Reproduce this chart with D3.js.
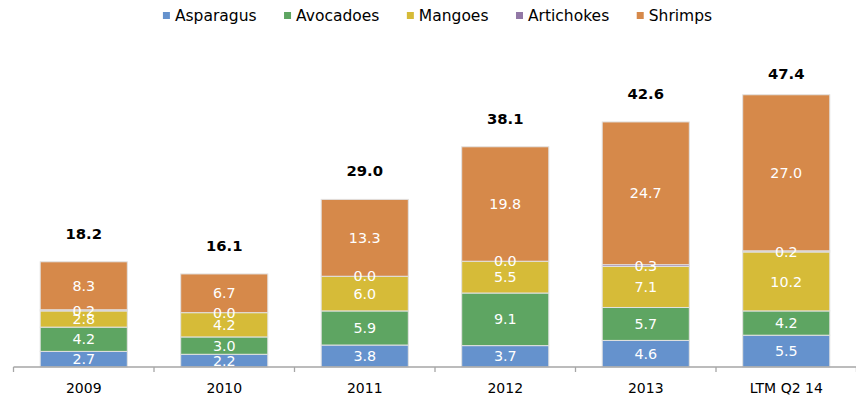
<!DOCTYPE html>
<html>
<head>
<meta charset="utf-8">
<script src="https://cdn.jsdelivr.net/npm/d3@7"></script>
<style>
  html, body { margin: 0; padding: 0; background: #fff; }
  svg { display: block; font-family: "DejaVu Sans", Verdana, sans-serif; }
</style>
</head>
<body>
<svg id="chart" width="856" height="402"></svg>
<script>
// Export revenue by product line (USD millions)
const categories = ["2009", "2010", "2011", "2012", "2013", "LTM Q2 14"];
const seriesNames = ["Asparagus", "Avocadoes", "Mangoes", "Artichokes", "Shrimps"];
const asparagus  = [2.7, 2.2, 3.8, 3.7, 4.6, 5.5];
const avocadoes  = [4.2, 3.0, 5.9, 9.1, 5.7, 4.2];
const mangoes    = [2.8, 4.2, 6.0, 5.5, 7.1, 10.2];
const artichokes = [0.2, 0.0, 0.0, 0.0, 0.3, 0.2];
const shrimps    = [8.3, 6.7, 13.3, 19.8, 24.7, 27.0];
const totals     = [18.2, 16.1, 29.0, 38.1, 42.6, 47.4];
const colors     = ["#6592cd", "#5ea562", "#d6bb38", "#9278a6", "#d6894a"];

const seriesValues = [asparagus, avocadoes, mangoes, artichokes, shrimps];
const rows = categories.map((c, i) => {
  const r = { category: c, total: totals[i] };
  seriesNames.forEach((s, k) => { r[s] = seriesValues[k][i]; });
  return r;
});

const svg = d3.select("#chart");
const baseY = 367, topY = 78;

const x = d3.scaleBand()
  .domain(categories)
  .range([13.5, 856.5])
  .paddingInner(0.38)
  .paddingOuter(0.19);

const y = d3.scaleLinear().domain([0, 50]).range([baseY, topY]);

const color = d3.scaleOrdinal().domain(seriesNames).range(colors);

const stacked = d3.stack().keys(seriesNames)(rows);

// Stacked segments
svg.append("g").selectAll("g")
  .data(stacked)
  .join("g")
  .attr("fill", d => color(d.key))
  .selectAll("rect")
  .data(d => d)
  .join("rect")
  .attr("x", d => x(d.data.category))
  .attr("width", x.bandwidth())
  .attr("y", d => y(d[1]))
  .attr("height", d => Math.max(0, y(d[0]) - y(d[1])))
  .attr("stroke", "#e2e2e2")
  .attr("stroke-width", 1);

// Segment value labels, drawn over all segments
const segLabels = stacked.flatMap(layer =>
  layer.map(v => ({ key: layer.key, lo: v[0], hi: v[1], row: v.data })));
svg.append("g").selectAll("text")
  .data(segLabels)
  .join("text")
  .attr("x", d => x(d.row.category) + x.bandwidth() / 2)
  .attr("y", d => (y(d.lo) + y(d.hi)) / 2)
  .attr("dy", "0.36em")
  .attr("text-anchor", "middle")
  .attr("fill", "#fff")
  .attr("font-size", "14.3px")
  .text(d => d.row[d.key].toFixed(1));

// Total labels above each stack
const topLayer = stacked[stacked.length - 1];
svg.append("g").selectAll("text")
  .data(topLayer)
  .join("text")
  .attr("x", d => x(d.data.category) + x.bandwidth() / 2)
  .attr("y", d => Math.max(y(d[1]) - 23, topY + 1))
  .attr("text-anchor", "middle")
  .attr("font-weight", "bold")
  .attr("font-size", "14.8px")
  .attr("fill", "#000")
  .text(d => d.data.total.toFixed(1));

// Category axis
const axis = svg.append("g").attr("transform", `translate(0,${baseY})`);
axis.append("line")
  .attr("x1", x.range()[0]).attr("x2", x.range()[1])
  .attr("stroke", "#a6a6a6").attr("stroke-width", 1.3);
const bounds = categories.map(c => x(c) - x.step() * x.paddingInner() / 2)
  .concat([x.range()[1]]);
axis.selectAll("line.tick")
  .data(bounds)
  .join("line")
  .attr("class", "tick")
  .attr("x1", d => d).attr("x2", d => d)
  .attr("y1", 0).attr("y2", 5)
  .attr("stroke", "#a6a6a6").attr("stroke-width", 1.3);
axis.selectAll("text")
  .data(categories)
  .join("text")
  .attr("x", d => x(d) + x.bandwidth() / 2)
  .attr("y", 26)
  .attr("text-anchor", "middle")
  .attr("font-size", "14px")
  .attr("fill", "#000")
  .text(d => d);

// Legend, laid out left to right and centred
const legendGap = 27.5;
const legend = svg.append("g");
const items = legend.selectAll("g")
  .data(seriesNames)
  .join("g");
items.append("rect")
  .attr("width", 7).attr("height", 7)
  .attr("y", 12)
  .attr("fill", d => color(d));
items.append("text")
  .attr("x", 12)
  .attr("y", 21)
  .attr("font-size", "15.5px")
  .attr("fill", "#000")
  .text(d => d);
let cursor = 0;
items.each(function () {
  const w = this.getBBox().width;
  d3.select(this).attr("transform", `translate(${cursor},0)`);
  cursor += w + legendGap;
});
const legendWidth = cursor - legendGap;
legend.attr("transform", `translate(${437.5 - legendWidth / 2},0)`);
</script>
</body>
</html>
